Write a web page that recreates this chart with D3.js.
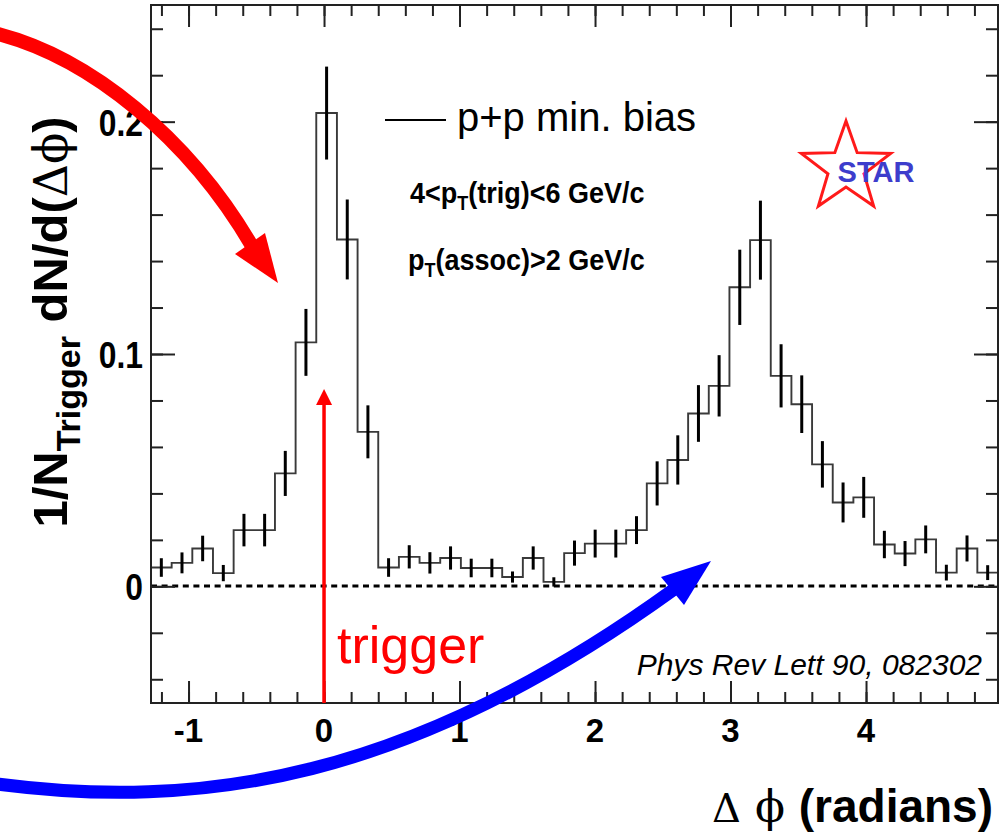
<!DOCTYPE html>
<html>
<head>
<meta charset="utf-8">
<script src="https://cdn.jsdelivr.net/npm/d3@7"></script>
<style>
  html, body { margin: 0; padding: 0; background: #fff; }
  svg { display: block; }
</style>
</head>
<body>
<svg id="chart" width="1003" height="833"></svg>
<script>
// ---------------- data ----------------
const xDomain = [-1.277, 4.974];          // delta phi range (radians)
const yDomain = [-0.05, 0.25];
const nBins = 41;
const binValues = [
  0.0081, 0.0101, 0.0163, 0.0057, 0.0242, 0.0242, 0.0486, 0.1050, 0.2037, 0.1493,
  0.0665, 0.0081, 0.0127, 0.0101, 0.0122, 0.0079, 0.0079, 0.0040, 0.0122, 0.0019,
  0.0143, 0.0184, 0.0184, 0.0242, 0.0443, 0.0544, 0.0744, 0.0863, 0.1287, 0.1490,
  0.0906, 0.0784, 0.0525, 0.0361, 0.0383, 0.0180, 0.0141, 0.0202, 0.0059, 0.0163,
  0.0059
];
const binErrors = [
  0.0040, 0.0045, 0.0055, 0.0035, 0.0070, 0.0070, 0.0097, 0.0144, 0.0200, 0.0172,
  0.0114, 0.0040, 0.0050, 0.0046, 0.0050, 0.0040, 0.0040, 0.0024, 0.0050, 0.0020,
  0.0054, 0.0060, 0.0060, 0.0060, 0.0095, 0.0106, 0.0122, 0.0132, 0.0162, 0.0170,
  0.0136, 0.0124, 0.0100, 0.0086, 0.0088, 0.0059, 0.0054, 0.0060, 0.0034, 0.0056,
  0.0032
];
const xTicks = [-1, 0, 1, 2, 3, 4];
const xTickLabels = ["-1", "0", "1", "2", "3", "4"];
const yTicks = [0, 0.1, 0.2];
const yTickLabels = ["0", "0.1", "0.2"];
const legendLabel = "p+p min. bias";
const triggerX = 0;

// ---------------- layout ----------------
const L = 151, R = 998, T = 5, B = 703;
const svg = d3.select("#chart");
const x = d3.scaleLinear().domain(xDomain).range([L, R]);
const y = d3.scaleLinear().domain(yDomain).range([702.5, 5.5]);
const binW = (xDomain[1] - xDomain[0]) / nBins;
const edges = d3.range(nBins + 1).map(i => xDomain[0] + i * binW);

const sans = "'Liberation Sans', Arial, Helvetica, sans-serif";
const serif = "'DejaVu Serif', 'Liberation Serif', serif";

// zero dashed line
svg.append("line")
  .attr("x1", L).attr("x2", R).attr("y1", Math.round(y(0))).attr("y2", Math.round(y(0)))
  .attr("stroke", "#000").attr("stroke-width", 3).attr("stroke-dasharray", "6,4.6");

// histogram step line
const pts = edges.map((e, i) => [e, binValues[Math.min(i, nBins - 1)]]);
svg.append("path")
  .attr("d", d3.line().x(d => x(d[0])).y(d => y(d[1])).curve(d3.curveStepAfter)(pts))
  .attr("fill", "none").attr("stroke", "#3a3a3a").attr("stroke-width", 1.9);

// error bars
svg.append("g").selectAll("line").data(binValues).join("line")
  .attr("x1", (d, i) => x(xDomain[0] + (i + 0.5) * binW))
  .attr("x2", (d, i) => x(xDomain[0] + (i + 0.5) * binW))
  .attr("y1", (d, i) => y(d - binErrors[i]))
  .attr("y2", (d, i) => y(d + binErrors[i]))
  .attr("stroke", "#000").attr("stroke-width", 3);

// frame
svg.append("rect").attr("x", L).attr("y", T).attr("width", R - L).attr("height", B - T)
  .attr("fill", "none").attr("stroke", "#222").attr("stroke-width", 2);

// ticks via d3 axes (inward)
const xMinor = d3.range(-1.2, 4.81, 0.2).map(v => +v.toFixed(2));
const yMinor = d3.range(-0.04, 0.241, 0.02).map(v => +v.toFixed(3));
function tickGroup(axis, tx, ty) {
  const g = svg.append("g").attr("transform", `translate(${tx},${ty})`).call(axis);
  g.select(".domain").remove();
  g.selectAll("text").remove();
  g.selectAll("line").attr("stroke", "#222").attr("stroke-width", 2);
  return g;
}
tickGroup(d3.axisBottom(x).tickValues(xMinor).tickSize(-11), 0, B);
tickGroup(d3.axisBottom(x).tickValues(xTicks).tickSize(-22), 0, B);
tickGroup(d3.axisTop(x).tickValues(xMinor).tickSize(-11), 0, T);
tickGroup(d3.axisTop(x).tickValues(xTicks).tickSize(-22), 0, T);
tickGroup(d3.axisLeft(y).tickValues(yMinor).tickSize(-12), L, 0);
tickGroup(d3.axisLeft(y).tickValues(yTicks).tickSize(-24), L, 0);
tickGroup(d3.axisRight(y).tickValues(yMinor).tickSize(-12), R, 0);
tickGroup(d3.axisRight(y).tickValues(yTicks).tickSize(-24), R, 0);

// tick labels
svg.append("g").selectAll("text").data(xTicks).join("text")
  .attr("x", d => x(d)).attr("y", 742)
  .attr("text-anchor", "middle")
  .attr("font-family", sans).attr("font-weight", "bold").attr("font-size", 33)
  .text((d, i) => xTickLabels[i]);
svg.append("g").selectAll("text").data(yTicks).join("text")
  .attr("transform", d => `translate(143,${y(d) + 14}) scale(0.86,1)`)
  .attr("text-anchor", "end")
  .attr("font-family", sans).attr("font-weight", "bold").attr("font-size", 37)
  .text((d, i) => yTickLabels[i]);

// axis titles
const xt = svg.append("g");
xt.append("text").attr("x", 712).attr("y", 822).attr("font-family", serif)
  .attr("font-size", 40).text("Δ");
xt.append("text").attr("x", 770).attr("y", 822).attr("text-anchor", "middle")
  .attr("font-family", serif).attr("font-size", 44).text("ϕ");
xt.append("text").attr("x", 993).attr("y", 822).attr("text-anchor", "end")
  .attr("font-family", sans).attr("font-weight", "bold").attr("font-size", 46).text("(radians)");

const yt = svg.append("text")
  .attr("transform", "translate(67,322) rotate(-90)")
  .attr("text-anchor", "middle")
  .attr("font-family", sans).attr("font-weight", "bold").attr("font-size", 49);
yt.append("tspan").text("1/N");
yt.append("tspan").attr("font-size", 34).attr("dy", 13).text("Trigger");
yt.append("tspan").attr("dy", -13).text(" dN/d(");
yt.append("tspan").attr("font-family", serif).attr("font-weight", "normal").attr("font-size", 46).text("Δϕ");
yt.append("tspan").text(")");

// legend
svg.append("line").attr("x1", 385).attr("x2", 446).attr("y1", 120).attr("y2", 120)
  .attr("stroke", "#000").attr("stroke-width", 2.2);
svg.append("text").attr("x", 457).attr("y", 131)
  .attr("font-family", sans).attr("font-size", 40).text(legendLabel);

function cutLabel(xp, yp, first, rest) {
  const t = svg.append("text")
    .attr("transform", `translate(${xp},${yp}) scale(0.9,1)`)
    .attr("font-family", sans).attr("font-weight", "bold").attr("font-size", 30);
  t.append("tspan").text(first);
  t.append("tspan").attr("font-size", 20).attr("dy", 7).text("T");
  t.append("tspan").attr("dy", -7).text(rest);
}
cutLabel(410, 203, "4<p", "(trig)<6 GeV/c");
cutLabel(408, 270, "p", "(assoc)>2 GeV/c");

svg.append("text").attr("x", 982).attr("y", 675).attr("text-anchor", "end")
  .attr("font-family", sans).attr("font-style", "italic").attr("font-size", 30)
  .text("Phys Rev Lett 90, 082302");

// STAR logo
const cx = 846, cy = 168, Ro = 47, Ri = 19;
const starPts = d3.range(10).map(k => {
  const a = k * Math.PI / 5;
  const r = k % 2 === 0 ? Ro : Ri;
  return [cx + r * Math.sin(a), cy - r * Math.cos(a)];
});
svg.append("polygon").attr("points", starPts.map(p => p.join(",")).join(" "))
  .attr("fill", "none").attr("stroke", "#ff1a1a").attr("stroke-width", 3)
  .attr("stroke-linejoin", "miter");
svg.append("text").attr("x", 876).attr("y", 182).attr("text-anchor", "middle")
  .attr("font-family", sans).attr("font-weight", "bold").attr("font-size", 29)
  .attr("fill", "#3d3dcc").text("STAR");

// trigger arrow (red, at delta phi = 0)
svg.append("line").attr("x1", x(triggerX)).attr("x2", x(triggerX)).attr("y1", B).attr("y2", 400)
  .attr("stroke", "#ff0000").attr("stroke-width", 3.5);
svg.append("polygon")
  .attr("points", `${x(triggerX)},389 ${x(triggerX) - 8},405 ${x(triggerX) + 8},405`)
  .attr("fill", "#ff0000");
svg.append("text").attr("x", 337).attr("y", 663)
  .attr("font-family", sans).attr("font-size", 52).attr("fill", "#ff0000").text("trigger");

// big annotation arrows
svg.append("path").attr("d", "M -10 32 C 90 55, 190 140, 252 246")
  .attr("fill", "none").attr("stroke", "#ff0000").attr("stroke-width", 14);
svg.append("polygon").attr("points", "278,283 235,254 265,233").attr("fill", "#ff0000");

svg.append("path").attr("d", "M -10 783 C 200 812, 410 780, 673 590")
  .attr("fill", "none").attr("stroke", "#0000ff").attr("stroke-width", 13);
svg.append("polygon").attr("points", "711,561 661,577 684,605").attr("fill", "#0000ff");
</script>
</body>
</html>
